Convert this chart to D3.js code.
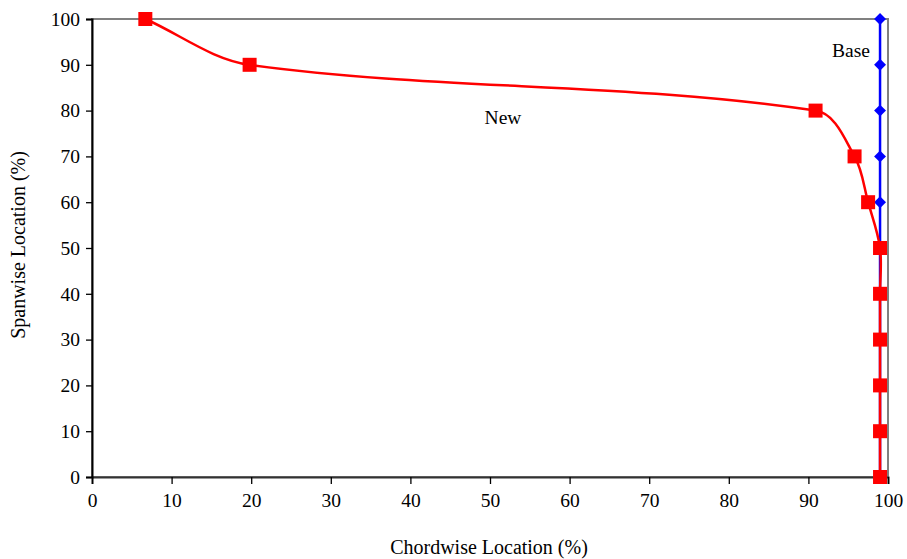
<!DOCTYPE html>
<html><head><meta charset="utf-8">
<script src="https://cdn.jsdelivr.net/npm/d3@7"></script>
<style>body{margin:0;background:#fff}svg{display:block}text{font-family:"Liberation Serif","Times New Roman",serif;fill:#000}</style>
</head><body>
<svg id="c" width="907" height="559"></svg>
<script>
const spanLevels = [0,10,20,30,40,50,60,70,80,90,100];
const baseChord = [99,99,99,99,99,99,99,99,99,99,99];
const newChord  = [99,99,99,99,99,99,97.5,95.8,90.9,19.8,6.7];
const xTicks = [0,10,20,30,40,50,60,70,80,90,100];
const yTicks = [0,10,20,30,40,50,60,70,80,90,100];
const labels = {base:"Base", newS:"New", x:"Chordwise Location (%)", y:"Spanwise Location (%)"};

const svg = d3.select("#c");
const L=92, R=888, T=19, B=477;
const x = d3.scaleLinear().domain([0,100]).range([L,R]);
const y = d3.scaleLinear().domain([0,100]).range([B,T]);

svg.append("rect").attr("x",L).attr("y",T).attr("width",R-L).attr("height",B-T)
  .attr("fill","none").attr("stroke","#808080").attr("stroke-width",2);

const xa = svg.append("g").attr("transform",`translate(0,${B})`)
  .call(d3.axisBottom(x).tickValues(xTicks).tickSize(7).tickPadding(9).tickFormat(d3.format("d")));
const ya = svg.append("g").attr("transform",`translate(${L},0)`)
  .call(d3.axisLeft(y).tickValues(yTicks).tickSize(6).tickPadding(6).tickFormat(d3.format("d")));
[xa,ya].forEach(a=>{
  a.select(".domain").attr("stroke","#000").attr("stroke-width",2);
  a.selectAll(".tick line").attr("stroke","#000").attr("stroke-width",1.3);
  a.selectAll("text").attr("font-size",19.5).attr("font-family","Liberation Serif").attr("fill","#000");
});
xa.select(".domain").attr("stroke","#333");

const baseData = spanLevels.map((s,i)=>({x:baseChord[i],y:s}));
const newData = spanLevels.map((s,i)=>({x:newChord[i],y:s}));

// Smooth path: chord-length scaled tangent Bezier (Excel-like smoothing)
function smoothPath(data){
  const P = data.map(d=>[x(d.x),y(d.y)]);
  const n = P.length;
  const Tn = P.map((p,i)=>{
    const a = P[Math.max(0,i-1)], b = P[Math.min(n-1,i+1)];
    const dx=b[0]-a[0], dy=b[1]-a[1], l=Math.hypot(dx,dy)||1;
    return [dx/l,dy/l];
  });
  const path = d3.path();
  path.moveTo(P[0][0],P[0][1]);
  for(let i=0;i<n-1;i++){
    const a=P[i], b=P[i+1];
    const len = Math.hypot(b[0]-a[0],b[1]-a[1])/3;
    path.bezierCurveTo(a[0]+Tn[i][0]*len, a[1]+Tn[i][1]*len,
                       b[0]-Tn[i+1][0]*len, b[1]-Tn[i+1][1]*len, b[0], b[1]);
  }
  return path.toString();
}

svg.append("path").attr("d",smoothPath(baseData)).attr("fill","none")
  .attr("stroke","#0000ff").attr("stroke-width",2.5);
svg.selectAll(".dia").data(baseData).enter().append("path")
  .attr("d",d3.symbol().type(d3.symbolDiamond2).size(90))
  .attr("transform",d=>`translate(${x(d.x)},${y(d.y)})`).attr("fill","#0000ff");

svg.append("path").attr("d",smoothPath(newData)).attr("fill","none")
  .attr("stroke","#ff0000").attr("stroke-width",2.5);
svg.selectAll(".sq").data(newData).enter().append("rect")
  .attr("x",d=>x(d.x)-7).attr("y",d=>y(d.y)-7).attr("width",14).attr("height",14)
  .attr("fill","#ff0000");

svg.append("text").attr("x",870).attr("y",57).attr("text-anchor","end").attr("font-size",19.5).text(labels.base);
svg.append("text").attr("x",503).attr("y",124).attr("text-anchor","middle").attr("font-size",19.5).text(labels.newS);
svg.append("text").attr("x",489).attr("y",554).attr("text-anchor","middle").attr("font-size",20).text(labels.x);
svg.append("text").attr("transform","translate(25,245) rotate(-90)").attr("text-anchor","middle").attr("font-size",20).text(labels.y);
</script>
</body></html>
